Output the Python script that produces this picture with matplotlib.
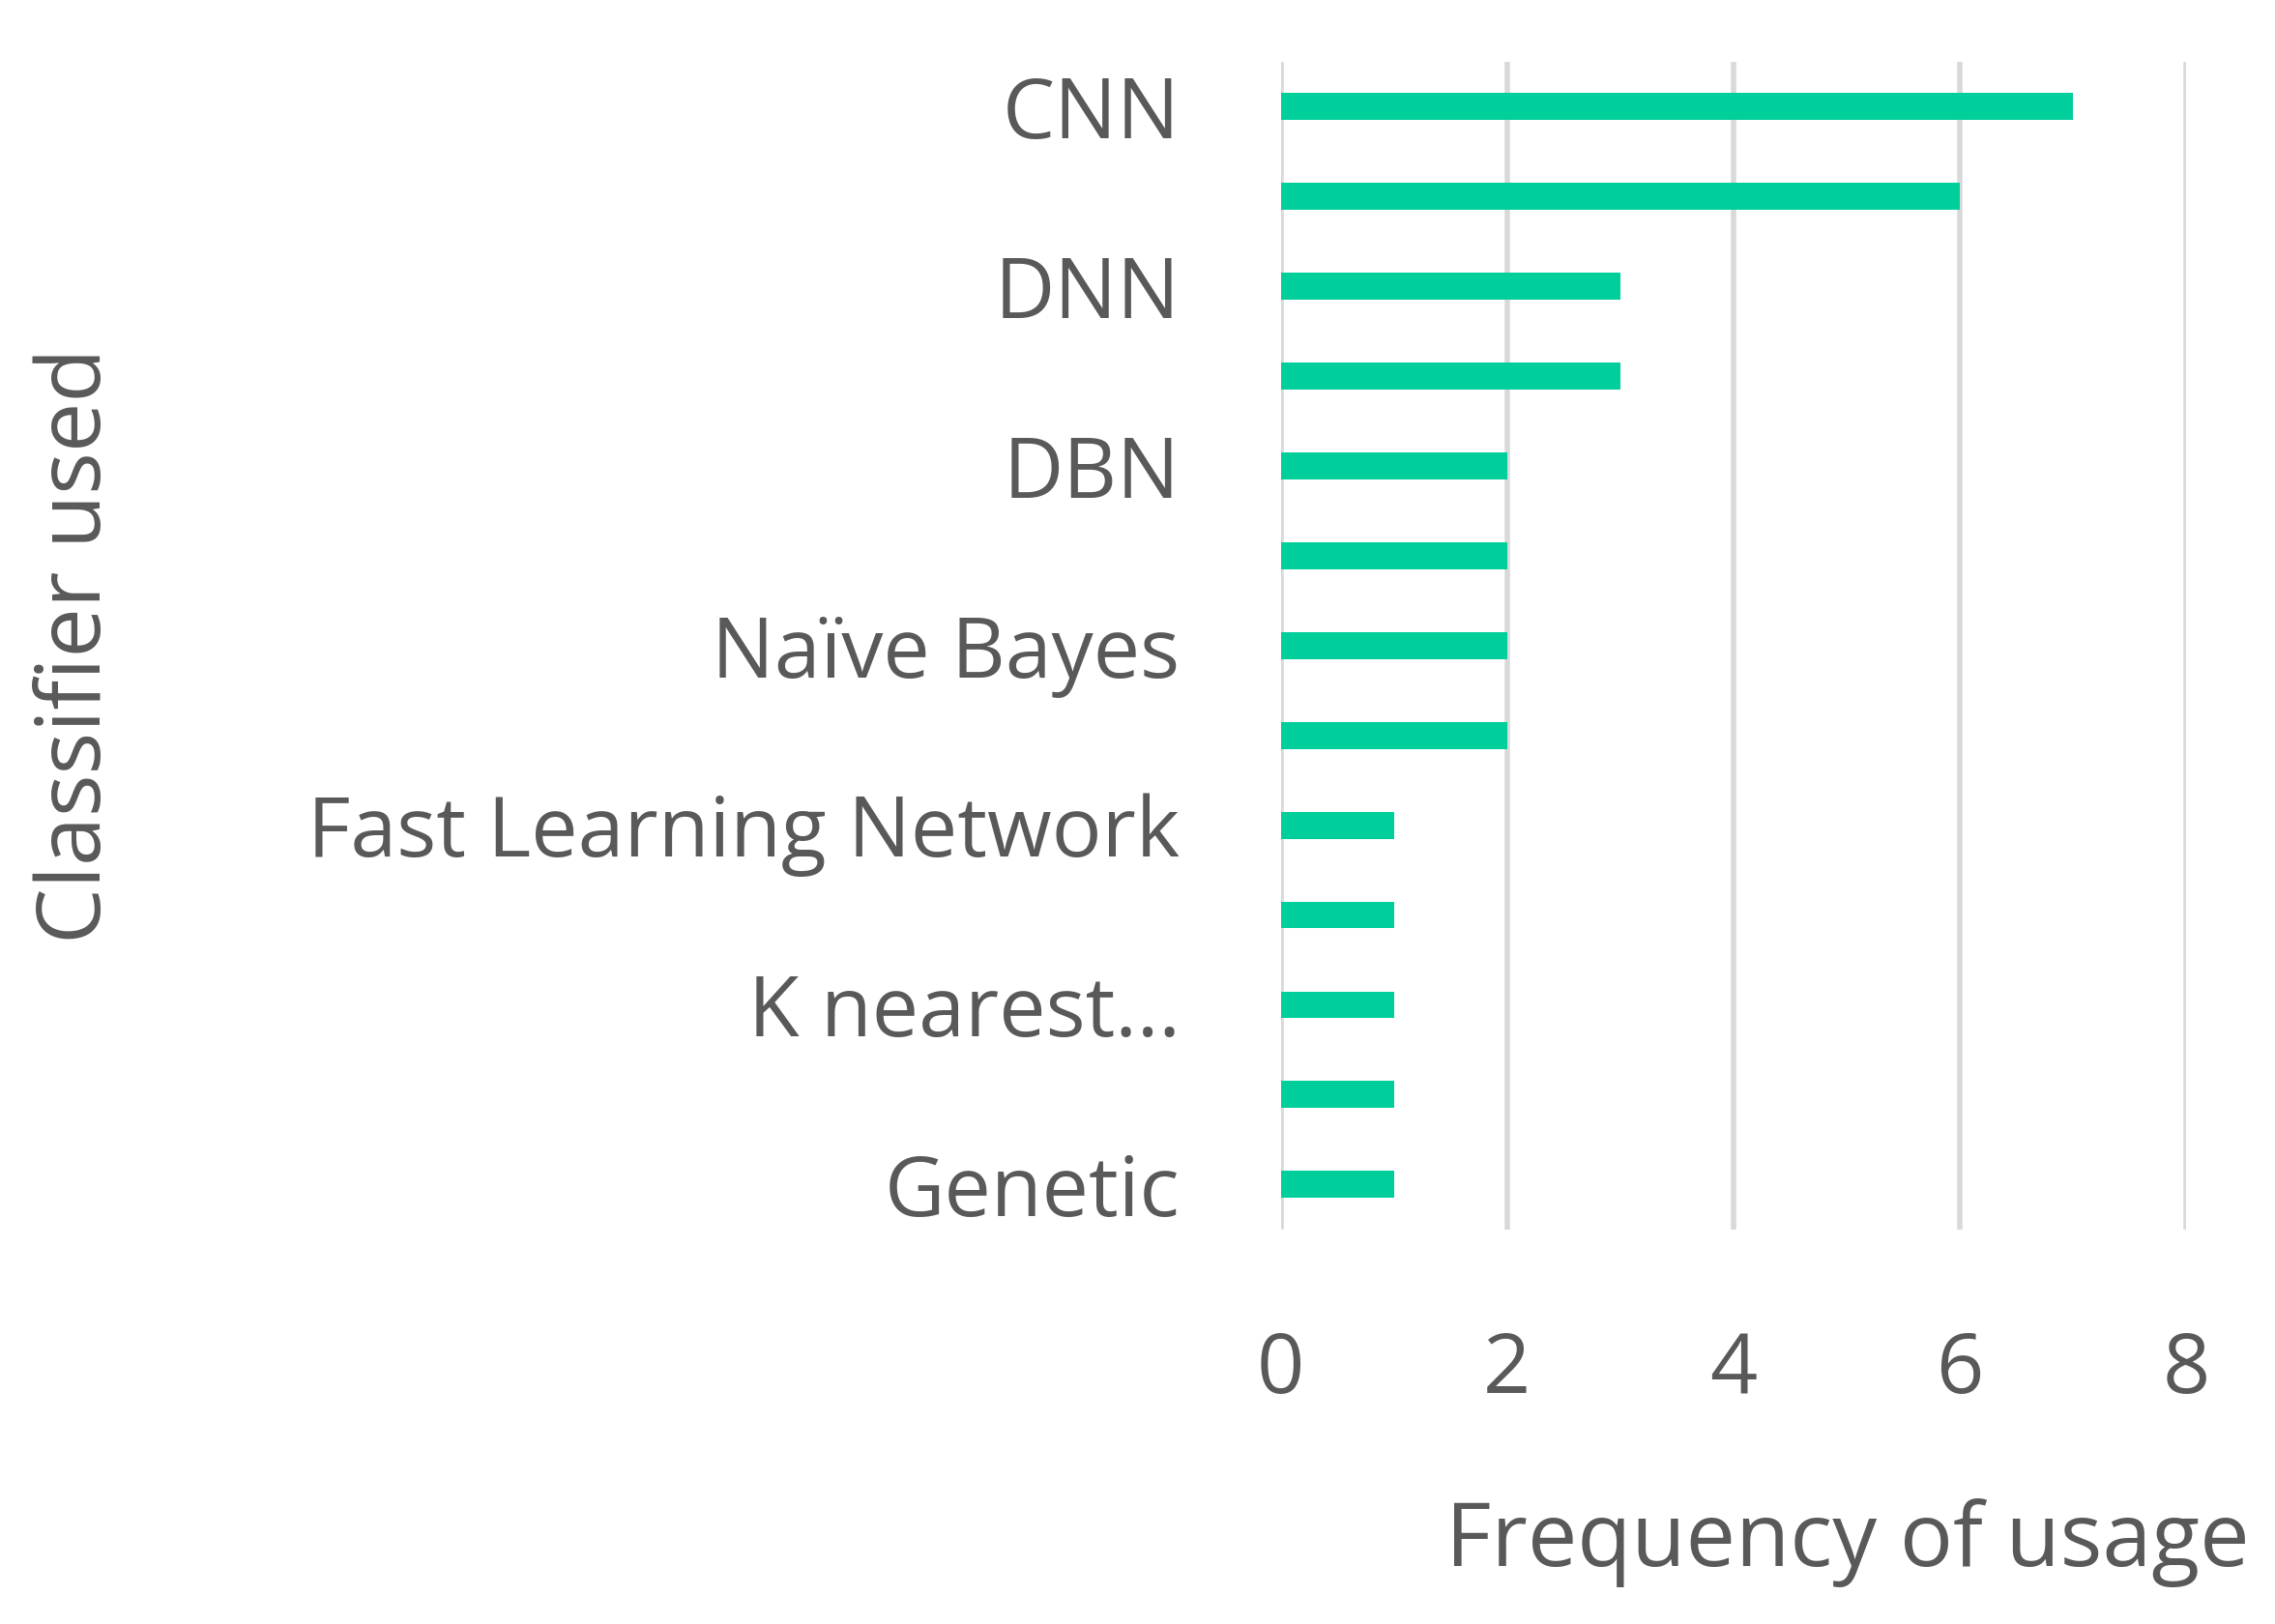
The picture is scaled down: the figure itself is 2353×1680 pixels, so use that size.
import matplotlib.pyplot as plt

labels = ["CNN", "", "DNN", "", "DBN", "", "Naïve Bayes", "",
          "Fast Learning Network", "", "K nearest...", "", "Genetic"]
values = [7, 6, 3, 3, 2, 2, 2, 2, 1, 1, 1, 1, 1]
xticks = [0, 2, 4, 6, 8]

grey = "#595959"
plt.rcParams['font.family'] = ['Open Sans', 'DejaVu Sans']

fig = plt.figure(figsize=(23.53, 16.8), dpi=100)
ax = fig.add_axes([0.563, 0.243, 0.398, 0.719])

pos = list(range(len(values)))
ax.barh(pos, values, height=0.3, color="#00CF9C", zorder=3)
ax.set_ylim(len(values) - 0.5, -0.5)
ax.set_xlim(0, 8)
ax.set_xticks(xticks)
ax.set_yticks(pos)
ax.set_yticklabels(labels)
ax.grid(axis="x", color="#D9D9D9", linewidth=4, zorder=0)
for s in ax.spines.values():
    s.set_visible(False)
ax.tick_params(axis="x", length=0, pad=75, labelsize=62, colors=grey)
ax.tick_params(axis="y", length=0, pad=75, labelsize=62, colors=grey)
ax.set_xlabel("Frequency of usage", fontsize=66, color=grey, ha="right")
ax.xaxis.set_label_coords(1.07, -0.23)
ax.set_ylabel("Classifier used", fontsize=66, color=grey)
ax.yaxis.set_label_coords(-1.28, 0.5)

fig.savefig("out.png", dpi=100)
